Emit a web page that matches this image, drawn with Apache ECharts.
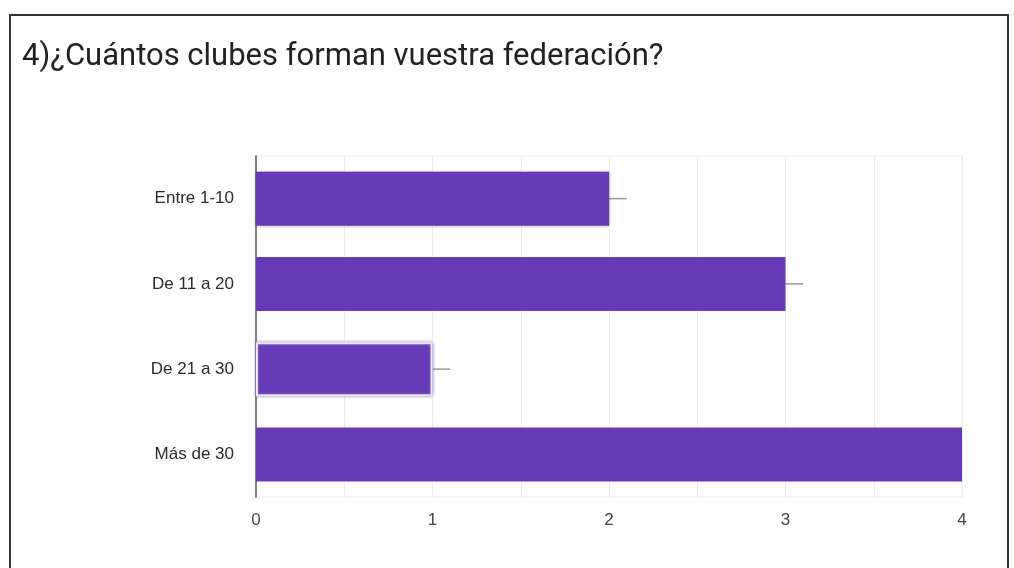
<!DOCTYPE html>
<html lang="es">
<head>
    <meta charset="UTF-8">
    <title>¿Cuántos clubes forman vuestra federación?</title>
    <script src="https://cdn.jsdelivr.net/npm/echarts@6/dist/echarts.min.js"></script>
    <style>
        html, body { margin: 0; padding: 0; background: #fff; }
        #chart { width: 1014px; height: 568px; }
    </style>
</head>
<body>
<div id="chart"></div>
<script>
    // datos del gráfico
    var categorias = ['Entre 1-10', 'De 11 a 20', 'De 21 a 30', 'Más de 30'];
    var valores = [2, 3, 1, 4];
    var marcasEje = [0, 1, 2, 3, 4];

    var morado = '#673ab7';

    var datosBarras = valores.map(function (v, i) {
        var item = { value: v };
        if (i === 0) {
            item.itemStyle = { shadowBlur: 3, shadowColor: 'rgba(0,0,0,0.45)' };
        }
        if (i === 2) {
            // la barra marcada con borde blanco interior
            item.itemStyle = { borderColor: '#ece6f7', borderWidth: 2, shadowBlur: 3, shadowColor: '#8f6fd4' };
        }
        return item;
    });

    var myChart = echarts.init(document.getElementById('chart'));
    var option = {
        animation: false,
        backgroundColor: '#fff',
        title: {
            text: '4)¿Cuántos clubes forman vuestra federación?',
            left: 17,
            top: 37,
            textStyle: {
                fontFamily: 'Roboto',
                fontSize: 31,
                fontWeight: 'normal',
                color: '#222'
            }
        },
        graphic: [{
            type: 'rect',
            shape: { x: 10, y: 15, width: 998, height: 600 },
            style: { fill: 'none', stroke: '#333', lineWidth: 2 },
            silent: true
        }],
        grid: {
            left: 256,
            right: 52,
            top: 156,
            bottom: 71,
            show: true,
            borderColor: '#ececec',
            borderWidth: 1
        },
        xAxis: {
            type: 'value',
            min: marcasEje[0],
            max: marcasEje[marcasEje.length - 1],
            interval: 0.5,
            axisLine: { show: false },
            axisTick: { show: false },
            splitLine: { lineStyle: { color: '#ececec', width: 1 } },
            axisLabel: {
                margin: 15,
                color: '#444',
                fontFamily: 'Liberation Sans',
                fontSize: 17,
                formatter: function (v) {
                    return marcasEje.indexOf(v) >= 0 ? String(v) : '';
                }
            }
        },
        yAxis: {
            type: 'category',
            inverse: true,
            data: categorias,
            axisLine: { show: true, lineStyle: { color: '#808080', width: 2 } },
            axisTick: { show: false },
            axisLabel: {
                margin: 22,
                color: '#2a2a2a',
                fontFamily: 'Liberation Sans',
                fontSize: 17
            }
        },
        series: [
            {
                type: 'bar',
                data: datosBarras,
                barWidth: 54,
                itemStyle: { color: morado },
                z: 3
            },
            {
                // trazo gris que sale del extremo de cada barra
                type: 'custom',
                clip: true,
                data: valores.map(function (v, i) { return [v, i]; }),
                renderItem: function (params, api) {
                    var a = api.coord([api.value(0), api.value(1)]);
                    var b = api.coord([api.value(0) + 0.1, api.value(1)]);
                    return {
                        type: 'line',
                        shape: { x1: a[0], y1: a[1], x2: b[0], y2: b[1] },
                        style: { stroke: '#999', lineWidth: 1.5 }
                    };
                },
                z: 2
            }
        ]
    };
    myChart.setOption(option);
</script>
</body>
</html>
